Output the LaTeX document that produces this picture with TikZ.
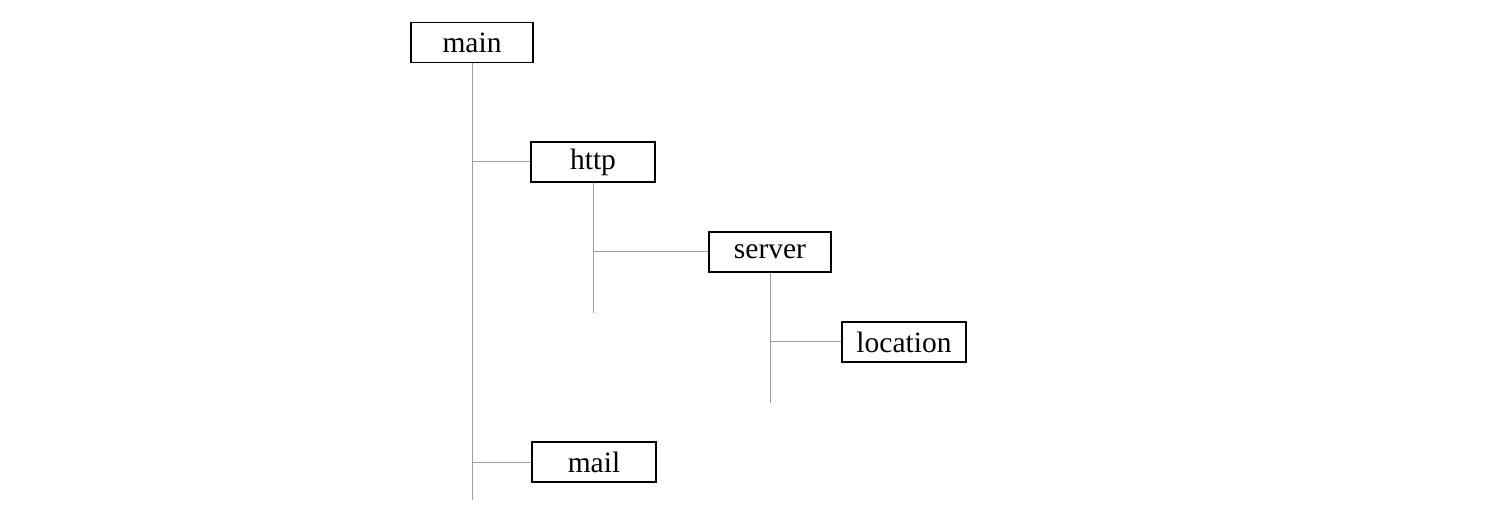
\documentclass[tikz,border=0pt]{standalone}
\usepackage{fontspec}
\setmainfont{Liberation Serif}
\begin{document}
\begin{tikzpicture}[x=1pt,y=-1pt,
  box/.style={draw=black,line width=1.3pt,minimum width=122pt,minimum height=40pt,inner sep=0pt,font=\fontsize{29.5}{32}\selectfont},
  link/.style={draw=black!38,line width=1pt}]
\useasboundingbox (0,0) rectangle (1504,526);
\node[box] (main) at (472,42.5) {main};
\node[box,minimum width=124pt] (http) at (593,162) {http};
\node[box] (server) at (770,252) {server};
\node[box,minimum width=124pt] (location) at (904,342) {location};
\node[box,minimum width=124pt] (mail) at (594,462) {mail};
\coordinate (mainend) at (472,500);
\coordinate (httpend) at (593,313);
\coordinate (serverend) at (770,403);
\coordinate (j1) at (472,162);
\coordinate (j2) at (472,462);
\coordinate (j3) at (593,252);
\coordinate (j4) at (770,342);
\draw[link] (main.south) -- (mainend);
\draw[link] (j1) -- (http.west);
\draw[link] (j2) -- (mail.west);
\draw[link] (http.south) -- (httpend);
\draw[link] (j3) -- (server.west);
\draw[link] (server.south) -- (serverend);
\draw[link] (j4) -- (location.west);
\end{tikzpicture}
\end{document}
